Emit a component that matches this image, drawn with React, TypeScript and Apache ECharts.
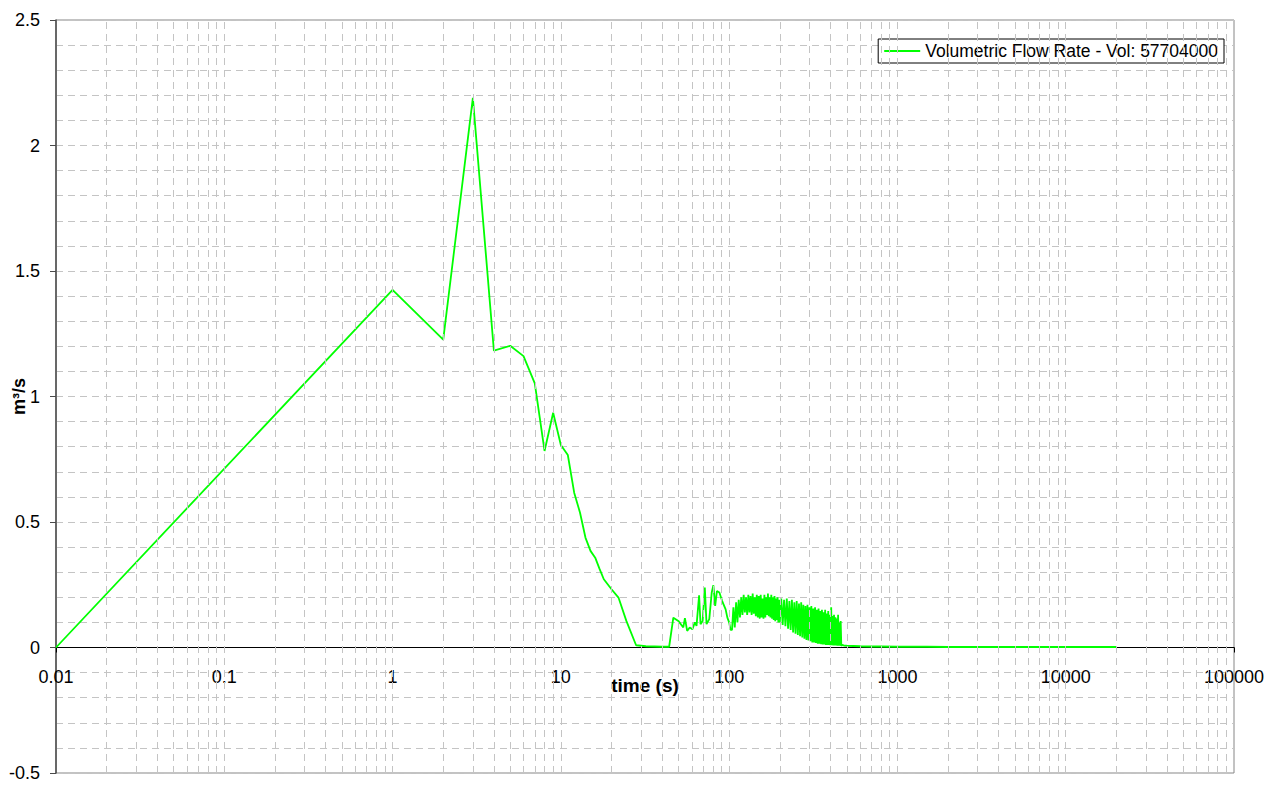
import React, { useEffect, useRef } from "react";
import * as echarts from "echarts";

const SERIES_NAME = "Volumetric Flow Rate - Vol: 57704000";
const X_NAME = "time (s)";
const Y_NAME = "m³/s";

const xTickLabels = ["0.01", "0.1", "1", "10", "100", "1000", "10000", "100000"];
const yTickLabels = ["-0.5", "0", "0.5", "1", "1.5", "2", "2.5"];
const Y_MIN = -0.5;
const Y_MAX = 2.5;

// initial ramp, peak and decay (s, m3/s)
const timeEarly = [0.01, 1, 2, 3, 4, 5, 6, 7, 8, 9, 10, 11, 12, 13, 14, 15, 16, 17, 18, 20, 22, 24.5, 28, 32, 36, 40, 44];
const flowEarly = [0, 1.425, 1.227, 2.19, 1.183, 1.202, 1.161, 1.052, 0.783, 0.935, 0.807, 0.767, 0.617, 0.537, 0.438, 0.385, 0.358, 0.312, 0.272, 0.232, 0.199, 0.106, 0.009, 0.005, 0.004, 0.003, 0.003];

// spiky restart
const timeSpikes = [46.6, 49.9, 53.4, 54.6, 56.3, 58.3, 60.5, 62.6, 64, 66.3, 67.6, 69.6, 71.7, 73.4, 76.2, 78.8, 80.6, 82.6, 84.6, 87.5, 90.8, 95.3, 97.6, 100, 102];
const flowSpikes = [0.119, 0.106, 0.08, 0.117, 0.066, 0.08, 0.073, 0.1, 0.086, 0.208, 0.093, 0.106, 0.239, 0.093, 0.113, 0.219, 0.248, 0.166, 0.225, 0.219, 0.186, 0.152, 0.119, 0.1, 0.07];

// dense oscillating band
const timeBand = [
  104, 106, 108, 110, 112, 114, 116, 118, 120, 122, 124, 126, 128, 130, 132, 134, 136, 138, 140, 142,
  144, 146, 148, 150, 152, 154, 156, 158, 160, 162, 164, 166, 168, 170, 172, 174, 176, 178, 180, 182,
  184, 186, 188, 190, 192, 194, 196, 198, 200, 204, 208, 212, 216, 220, 224, 228, 232, 236, 240, 244,
  248, 252, 256, 260, 264, 268, 272, 276, 280, 284, 288, 292, 296, 300, 304, 308, 312, 316, 320, 324,
  328, 332, 336, 340, 344, 348, 352, 356, 360, 364, 368, 372, 376, 380, 384, 388, 392, 396, 400, 404,
  408, 412, 416, 420, 424, 428, 432, 436, 440, 444, 448, 452, 456, 460, 464, 468,
];
const flowBand = [
  0.07, 0.16, 0.08, 0.18, 0.1, 0.19, 0.12, 0.2, 0.13, 0.21, 0.14, 0.2, 0.13, 0.21, 0.14, 0.205, 0.13, 0.215, 0.135, 0.2,
  0.125, 0.21, 0.12, 0.205, 0.115, 0.21, 0.12, 0.195, 0.115, 0.21, 0.12, 0.2, 0.13, 0.215, 0.125, 0.2, 0.12, 0.21, 0.115, 0.2,
  0.11, 0.205, 0.105, 0.195, 0.11, 0.2, 0.1, 0.19, 0.1, 0.195, 0.09, 0.19, 0.085, 0.195, 0.075, 0.185, 0.07, 0.19, 0.06, 0.18,
  0.055, 0.185, 0.05, 0.175, 0.045, 0.18, 0.04, 0.17, 0.035, 0.165, 0.03, 0.17, 0.028, 0.16, 0.025, 0.165, 0.02, 0.155, 0.02, 0.16,
  0.018, 0.15, 0.015, 0.155, 0.015, 0.145, 0.013, 0.15, 0.012, 0.14, 0.012, 0.15, 0.01, 0.135, 0.01, 0.145, 0.01, 0.13, 0.009, 0.16,
  0.009, 0.125, 0.008, 0.13, 0.008, 0.12, 0.008, 0.115, 0.007, 0.13, 0.007, 0.1, 0.007, 0.105, 0.006, 0.01,
];

// long tail
const timeTail = [480, 500, 600, 700, 800, 1000, 1500, 2000, 3000, 5000, 10000, 20000];
const flowTail = [0.008, 0.007, 0.005, 0.004, 0.004, 0.003, 0.003, 0.002, 0.002, 0.002, 0.002, 0.002];

// log grid helpers
const decadeStarts = [0.01, 0.1, 1, 10, 100, 1000, 10000];
const gridMultipliers = [1, 2, 3, 4, 5, 6, 7, 8, 9];

const FONT = 'Arial, "Liberation Sans", Helvetica, sans-serif';

const GRID = { left: 56, right: 49, top: 20, bottom: 12 };
const CHART_W = 1283;
const CHART_H = 785;

export default function App() {
  const ref = useRef<HTMLDivElement>(null);

  useEffect(() => {
    if (!ref.current) return;
    const chart = echarts.init(ref.current, null, { renderer: "svg" });

    const pairs = (t: number[], v: number[]) => t.map((x, i) => [x, v[i]]);
    const data = [
      ...pairs(timeEarly, flowEarly),
      ...pairs(timeSpikes, flowSpikes),
      ...pairs(timeBand, flowBand),
      ...pairs(timeTail, flowTail),
    ];

    const vLines: { xAxis: number }[] = [];
    decadeStarts.forEach((d, di) => {
      gridMultipliers.forEach((m) => {
        if (di === 0 && m === 1) return;
        vLines.push({ xAxis: Number((d * m).toPrecision(6)) });
      });
    });

    // place the x axis at y = 0 (the axis crosses there in the reference)
    const plotH = CHART_H - GRID.top - GRID.bottom;
    const zeroOffset = -plotH * ((0 - Y_MIN) / (Y_MAX - Y_MIN));

    const gridColor = "#c4c4c4";

    chart.setOption({
      animation: false,
      backgroundColor: "#ffffff",
      grid: {
        ...GRID,
        containLabel: false,
        outerBoundsMode: "none",
        show: true,
        borderColor: "#868686",
        borderWidth: 1,
        backgroundColor: "transparent",
      },
      legend: {
        data: [SERIES_NAME],
        right: 59,
        top: 39,
        orient: "horizontal",
        icon: "rect",
        backgroundColor: "#ffffff",
        borderColor: "#000000",
        borderWidth: 1,
        borderRadius: 0,
        padding: [3, 6, 3, 6],
        itemWidth: 36,
        itemHeight: 2,
        itemGap: 4,
        textStyle: { fontFamily: FONT, fontSize: 17.5, color: "#000000", padding: [2, 0, 0, 0] },
      },
      xAxis: {
        type: "log",
        logBase: 10,
        min: 0.01,
        max: 100000,
        position: "bottom",
        offset: zeroOffset,
        name: X_NAME,
        nameLocation: "middle",
        nameGap: 28,
        nameMoveOverlap: false,
        nameTextStyle: { fontFamily: FONT, fontSize: 19, fontWeight: "bold", color: "#000000" },
        axisLine: { show: true, onZero: false, lineStyle: { color: "#000000", width: 1 } },
        axisTick: { show: true, inside: false, length: 5, lineStyle: { color: "#000000" } },
        axisLabel: {
          show: true,
          margin: 20,
          fontFamily: FONT,
          fontSize: 18,
          color: "#000000",
          formatter: (v: number) => xTickLabels[Math.round(Math.log10(v)) + 2] ?? String(v),
        },
        splitLine: { show: false },
      },
      yAxis: {
        type: "value",
        min: Y_MIN,
        max: Y_MAX,
        interval: 0.5,
        name: Y_NAME,
        nameLocation: "middle",
        nameRotate: 90,
        nameGap: 28,
        nameMoveOverlap: false,
        nameTextStyle: { fontFamily: FONT, fontSize: 18, fontWeight: "bold", color: "#000000" },
        axisLine: { show: true, onZero: false, lineStyle: { color: "#4a4a4a", width: 1.5 } },
        axisTick: { show: true, inside: false, length: 6, lineStyle: { color: "#4a4a4a" } },
        axisLabel: {
          show: true,
          margin: 16,
          fontFamily: FONT,
          fontSize: 18,
          color: "#000000",
          formatter: (v: number) => yTickLabels[Math.round((v - Y_MIN) / 0.5)] ?? String(v),
        },
        splitLine: { show: true, lineStyle: { color: gridColor, type: [7, 5], width: 1 } },
        minorTick: { show: false, splitNumber: 5 },
        minorSplitLine: { show: true, lineStyle: { color: gridColor, type: [7, 5], width: 1 } },
      },
      series: [
        {
          name: "grid",
          type: "line",
          data: [],
          silent: true,
          z: 1,
          markLine: {
            silent: true,
            symbol: ["none", "none"],
            label: { show: false },
            lineStyle: { color: gridColor, type: [7, 5], width: 1 },
            emphasis: { disabled: true },
            data: vLines,
          },
        },
        {
          name: SERIES_NAME,
          type: "line",
          data,
          z: 3,
          symbol: "none",
          showSymbol: false,
          smooth: false,
          lineStyle: { color: "#00ff00", width: 1.8 },
          itemStyle: { color: "#00ff00" },
        },
      ],
    });

    return () => chart.dispose();
  }, []);

  return (
    <div
      ref={ref}
      style={{ position: "absolute", left: 0, top: 0, width: CHART_W, height: CHART_H, background: "#ffffff" }}
    />
  );
}
